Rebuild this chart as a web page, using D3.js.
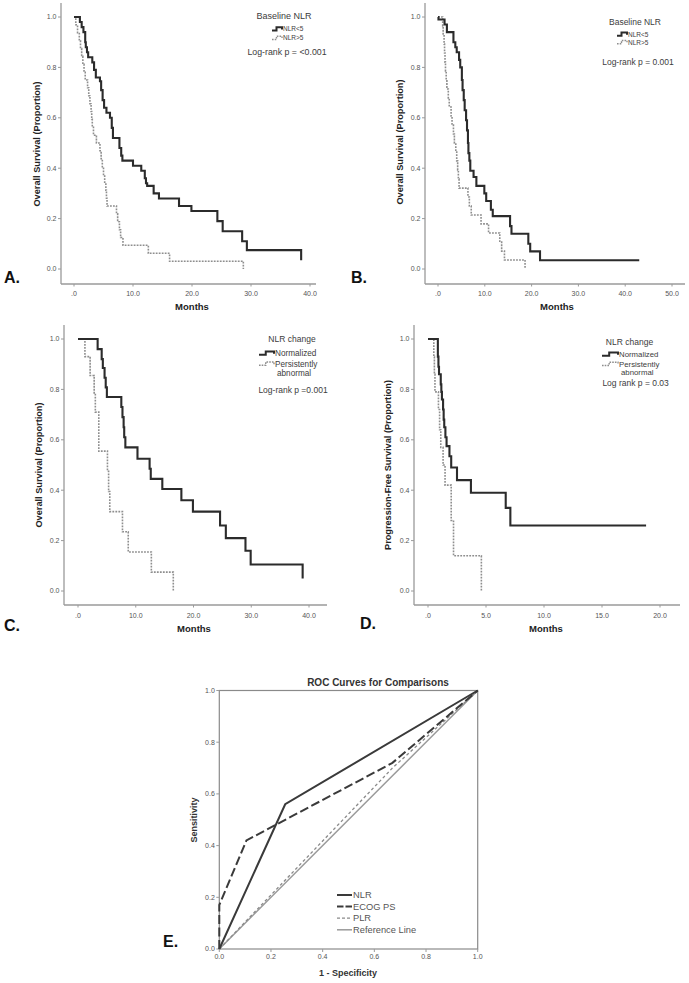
<!DOCTYPE html>
<html><head><meta charset="utf-8">
<script src="https://cdn.jsdelivr.net/npm/d3@7/dist/d3.min.js"></script>
<style>body{margin:0;background:#fff}svg{display:block}</style>
</head><body>
<svg id="c" width="689" height="983"></svg>
<script>
// ---------- DATA (time in months, survival proportion) ----------
const kmA_nlrLow = [[0,1],[1.0,0.98],[1.3,0.96],[1.6,0.94],[1.9,0.90],[2.0,0.88],[2.2,0.86],[2.4,0.84],[3.1,0.82],[3.4,0.79],[3.7,0.76],[4.4,0.745],[4.6,0.71],[4.85,0.67],[5.1,0.64],[5.5,0.62],[6.1,0.60],[6.4,0.56],[6.6,0.52],[7.7,0.48],[8.0,0.45],[8.2,0.43],[10.0,0.41],[11.4,0.39],[12.0,0.36],[12.2,0.34],[12.4,0.33],[13.5,0.30],[14.4,0.28],[17.8,0.25],[19.9,0.23],[24.3,0.19],[25.2,0.15],[28.5,0.11],[29.3,0.075],[38.5,0.035]];
const kmA_nlrHigh = [[0,1],[0.3,0.969],[0.6,0.938],[0.9,0.906],[1.1,0.875],[1.3,0.844],[1.5,0.8125],[1.7,0.781],[1.9,0.75],[2.3,0.719],[2.5,0.6875],[2.7,0.656],[2.9,0.625],[3.0,0.594],[3.1,0.5625],[3.3,0.531],[3.8,0.5],[4.4,0.469],[4.6,0.4375],[4.8,0.406],[5.0,0.375],[5.2,0.344],[5.4,0.3125],[5.5,0.281],[5.6,0.25],[7.2,0.219],[7.4,0.1875],[7.7,0.156],[7.9,0.125],[8.3,0.094],[12.6,0.0625],[16.2,0.031],[28.7,0]];
const kmB_nlrLow = [[0,1],[0.1,0.99],[1.4,0.97],[1.9,0.94],[3.3,0.90],[3.7,0.88],[4.0,0.86],[4.5,0.83],[4.75,0.80],[5.1,0.75],[5.25,0.71],[5.5,0.67],[5.7,0.63],[6.0,0.59],[6.2,0.55],[6.4,0.50],[6.5,0.46],[6.7,0.43],[6.9,0.39],[7.6,0.365],[8.2,0.33],[9.9,0.30],[10.3,0.27],[11.3,0.235],[11.7,0.21],[15.4,0.17],[15.7,0.14],[19.3,0.10],[19.7,0.07],[21.8,0.035],[43.0,0.035]];
const kmB_nlrHigh = [[0,1],[1.0,0.964],[1.1,0.929],[1.3,0.893],[1.4,0.857],[1.5,0.821],[1.6,0.786],[1.75,0.75],[1.9,0.714],[2.2,0.679],[2.4,0.643],[2.8,0.607],[3.0,0.571],[3.3,0.536],[3.5,0.5],[3.8,0.464],[4.0,0.429],[4.2,0.393],[4.35,0.357],[4.5,0.321],[6.4,0.286],[6.7,0.25],[7.1,0.214],[9.2,0.179],[10.8,0.143],[13.2,0.107],[13.6,0.071],[14.2,0.036],[18.6,0]];
const kmC_normalized = [[0,1],[3.4,0.96],[4.1,0.92],[4.3,0.885],[4.6,0.846],[4.8,0.808],[5.0,0.77],[7.5,0.73],[7.7,0.69],[7.9,0.65],[8.0,0.61],[8.2,0.57],[10.3,0.525],[12.4,0.485],[12.6,0.445],[14.6,0.405],[17.9,0.36],[19.9,0.315],[24.6,0.26],[25.6,0.21],[29.0,0.16],[29.9,0.105],[38.9,0.05]];
const kmC_persistent = [[0,1],[1.2,0.93],[2.1,0.855],[2.8,0.78],[3.0,0.71],[3.6,0.555],[5.1,0.475],[5.3,0.395],[5.5,0.315],[7.7,0.235],[8.7,0.155],[12.7,0.075],[16.5,0]];
const kmD_normalized = [[0,1],[0.85,0.93],[0.9,0.89],[0.95,0.86],[1.1,0.82],[1.15,0.79],[1.2,0.76],[1.3,0.72],[1.35,0.68],[1.4,0.65],[1.5,0.61],[1.6,0.575],[1.85,0.535],[2.0,0.49],[2.5,0.44],[3.7,0.39],[6.7,0.33],[7.1,0.26],[18.8,0.26]];
const kmD_persistent = [[0,1],[0.5,0.93],[0.55,0.86],[0.6,0.79],[0.9,0.72],[1.0,0.64],[1.1,0.57],[1.3,0.5],[1.47,0.42],[2.0,0.28],[2.2,0.14],[4.6,0]];

const xTicks40 = [0,10,20,30,40];
const xTicks50 = [0,10,20,30,40,50];
const xTicks20 = [0,5,10,15,20];
const yTicksKM = [0,0.2,0.4,0.6,0.8,1.0];

const rocNLR  = [[0,0],[0.255,0.56],[1,1]];
const rocECOG = [[0,0],[0,0.17],[0.105,0.42],[0.67,0.72],[1,1]];
const rocPLR  = [[0,0],[0.67,0.70],[1,1]];
const rocRef  = [[0,0],[1,1]];
const rocTicks = [0,0.2,0.4,0.6,0.8,1.0];
const rocLegend = ["NLR","ECOG PS","PLR","Reference Line"];

// ---------- DRAWING ----------
const FONT = "'Liberation Sans', Arial, Helvetica, sans-serif";
const svg = d3.select("#c").style("font-family", FONT);
const AX = "#9a9a9a", TXT = "#3c3c3c", TICK = "#555";
const DARK = "#2b2b2b", GREY = "#8e8e8e";

function stepPath(data, x, y){
  let d = `M${x(data[0][0])},${y(data[0][1])}`;
  for (let i=1;i<data.length;i++) d += `H${x(data[i][0])}V${y(data[i][1])}`;
  return d;
}
const fmtX = d => d===0 ? ".0" : d.toFixed(1);

const panels = [
  {series:[kmA_nlrLow,kmA_nlrHigh], xMax:40, xt:xTicks40, xr:[74,310], yr:[269,17], axX:61, axTop:3, axBot:284, axRight:316, tlY:294,
   monthsX:192, monthsY:307, ylab:"Overall Survival (Proportion)", ylabX:37, ylabY:144, letter:"A.", lx:4, ly:283,
   title:"Baseline NLR", titleX:284, titleY:16, titleSize:9, items:[{t:"NLR<5",y:29},{t:"NLR>5",y:38}], sx:272, sw:10, tx:283, itemSize:6.5,
   p:"Log-rank p = <0.001", pX:287, pY:52, pSize:8.8},
  {series:[kmB_nlrLow,kmB_nlrHigh], xMax:50, xt:xTicks50, xr:[438,672], yr:[269,17], axX:425, axTop:3, axBot:284, axRight:685, tlY:294,
   monthsX:557, monthsY:307, ylab:"Overall Survival (Proportion)", ylabX:400, ylabY:142, letter:"B.", lx:351, ly:283,
   title:"Baseline NLR", titleX:635, titleY:22, titleSize:8.5, items:[{t:"NLR<5",y:34.3},{t:"NLR>5",y:42.3}], sx:617, sw:10, tx:628, itemSize:6.5,
   p:"Log-rank p = 0.001", pX:638, pY:62, pSize:8.5},
  {series:[kmC_normalized,kmC_persistent], xMax:40, xt:xTicks40, xr:[78,309], yr:[591,339], axX:64, axTop:325, axBot:605, axRight:327, tlY:616,
   monthsX:194, monthsY:629, ylab:"Overall Survival (Proportion)", ylabX:39, ylabY:465, letter:"C.", lx:4, ly:631,
   title:"NLR change", titleX:292, titleY:339.5, titleSize:8.5, items:[{t:"Normalized",y:353.3},{t:"Persistently",y:363.8,t2:"abnormal",y2:372.8}], sx:259, sw:15, tx:275, itemSize:8.2,
   p:"Log-rank p =0.001", pX:293, pY:390, pSize:8.5},
  {series:[kmD_normalized,kmD_persistent], xMax:20, xt:xTicks20, xr:[428,660], yr:[591,339], axX:414, axTop:325, axBot:605, axRight:680, tlY:616,
   monthsX:546, monthsY:629, ylab:"Progression-Free Survival (Proportion)", ylabX:387.5, ylabY:465, letter:"D.", lx:360, ly:629,
   title:"NLR change", titleX:629.5, titleY:341.7, titleSize:8.5, items:[{t:"Normalized",y:354.3},{t:"Persistently",y:364,t2:"abnormal",y2:372.6}], sx:602, sw:16, tx:619, itemSize:7.8,
   p:"Log rank p = 0.03", pX:635.6, pY:383.5, pSize:8.5}
];

panels.forEach(P => {
  const g = svg.append("g");
  const x = d3.scaleLinear().domain([0,P.xMax]).range(P.xr);
  const y = d3.scaleLinear().domain([0,1]).range(P.yr);
  g.append("line").attr("x1",P.axX).attr("x2",P.axX).attr("y1",P.axTop).attr("y2",P.axBot).attr("stroke",AX).attr("stroke-width",1.3);
  g.append("line").attr("x1",P.axX).attr("x2",P.axRight).attr("y1",P.axBot).attr("y2",P.axBot).attr("stroke",AX).attr("stroke-width",1.3);
  yTicksKM.forEach(v => {
    g.append("line").attr("x1",P.axX-3).attr("x2",P.axX).attr("y1",y(v)).attr("y2",y(v)).attr("stroke",AX);
    g.append("text").attr("x",P.axX-4.5).attr("y",y(v)).attr("dy","0.35em").attr("text-anchor","end")
      .attr("font-size",7).attr("fill",TICK).text(v.toFixed(1));
  });
  P.xt.forEach(v => {
    g.append("line").attr("x1",x(v)).attr("x2",x(v)).attr("y1",P.axBot).attr("y2",P.axBot+2.5).attr("stroke",AX);
    g.append("text").attr("x",x(v)).attr("y",P.tlY).attr("dy","0.35em").attr("text-anchor","middle")
      .attr("font-size",7).attr("fill",TICK).text(fmtX(v));
  });
  g.append("text").attr("x",P.monthsX).attr("y",P.monthsY).attr("dy","0.35em").attr("text-anchor","middle")
    .attr("font-size",9.5).attr("font-weight","bold").attr("fill","#222").text("Months");
  g.append("text").attr("transform",`translate(${P.ylabX},${P.ylabY}) rotate(-90)`).attr("dy","0.35em").attr("text-anchor","middle")
    .attr("font-size",9.2).attr("font-weight","bold").attr("fill","#222").text(P.ylab);
  g.append("text").attr("x",P.lx).attr("y",P.ly).attr("font-size",16).attr("font-weight","bold").attr("fill","#111").text(P.letter);
  g.append("path").attr("d",stepPath(P.series[1],x,y)).attr("fill","none").attr("stroke",GREY).attr("stroke-width",1.6).attr("stroke-dasharray","1.8,1.2");
  g.append("path").attr("d",stepPath(P.series[0],x,y)).attr("fill","none").attr("stroke",DARK).attr("stroke-width",2.1);
  g.append("text").attr("x",P.titleX).attr("y",P.titleY).attr("dy","0.35em").attr("text-anchor","middle")
    .attr("font-size",P.titleSize).attr("fill",TXT).text(P.title);
  P.items.forEach((it,i) => {
    const s = i===0 ? {c:DARK,w:2,da:null} : {c:GREY,w:1.4,da:"1.6,1.1"};
    const yy = it.y, x0 = P.sx, w = P.sw;
    g.append("path").attr("d",`M${x0},${yy+1.5}H${x0+w*0.45}V${yy-1.8}H${x0+w}V${yy+0.5}`)
      .attr("fill","none").attr("stroke",s.c).attr("stroke-width",s.w).attr("stroke-dasharray",s.da);
    g.append("text").attr("x",P.tx).attr("y",yy).attr("dy","0.35em").attr("font-size",P.itemSize).attr("fill",TXT).text(it.t);
    if (it.t2) g.append("text").attr("x",P.tx+2).attr("y",it.y2).attr("dy","0.35em").attr("font-size",P.itemSize).attr("fill",TXT).text(it.t2);
  });
  g.append("text").attr("x",P.pX).attr("y",P.pY).attr("dy","0.35em").attr("text-anchor","middle")
    .attr("font-size",P.pSize).attr("fill",TXT).text(P.p);
});

// ---------- ROC (E) ----------
(function(){
  const g = svg.append("g");
  const x = d3.scaleLinear().domain([0,1]).range([219.3,477.7]);
  const y = d3.scaleLinear().domain([0,1]).range([949,690.5]);
  g.append("rect").attr("x",x(0)).attr("y",y(1)).attr("width",x(1)-x(0)).attr("height",y(0)-y(1))
    .attr("fill","none").attr("stroke","#8a8a8a").attr("stroke-width",1.2);
  rocTicks.forEach(v => {
    g.append("line").attr("x1",x(0)-3).attr("x2",x(0)).attr("y1",y(v)).attr("y2",y(v)).attr("stroke",AX);
    g.append("text").attr("x",x(0)-4.5).attr("y",y(v)).attr("dy","0.35em").attr("text-anchor","end")
      .attr("font-size",7).attr("fill",TICK).text(v.toFixed(1));
    g.append("line").attr("x1",x(v)).attr("x2",x(v)).attr("y1",y(0)).attr("y2",y(0)+3).attr("stroke",AX);
    g.append("text").attr("x",x(v)).attr("y",957).attr("dy","0.35em").attr("text-anchor","middle")
      .attr("font-size",7).attr("fill",TICK).text(v.toFixed(1));
  });
  const line = d3.line().x(d=>x(d[0])).y(d=>y(d[1]));
  const styles = [
    {data:rocNLR, c:"#3a3a3a", w:2, da:null, lda:null},
    {data:rocECOG, c:"#3a3a3a", w:2, da:"9,3.5", lda:"6.5,2"},
    {data:rocPLR, c:"#8a8a8a", w:1.3, da:"3,2.5", lda:"3,2"},
    {data:rocRef, c:"#9a9a9a", w:1.5, da:null, lda:null}
  ];
  [3,2,1,0].forEach(i => {
    const s = styles[i];
    g.append("path").attr("d",line(s.data)).attr("fill","none").attr("stroke",s.c).attr("stroke-width",s.w).attr("stroke-dasharray",s.da);
  });
  rocLegend.forEach((name,i) => {
    const s = styles[i], yy = 895 + i*11.6;
    g.append("line").attr("x1",337).attr("x2",352).attr("y1",yy).attr("y2",yy).attr("stroke",s.c).attr("stroke-width",s.w).attr("stroke-dasharray",s.lda);
    g.append("text").attr("x",353).attr("y",yy).attr("dy","0.35em").attr("font-size",9.3).attr("fill","#555").text(name);
  });
  g.append("text").attr("x",378).attr("y",682).attr("dy","0.35em").attr("text-anchor","middle")
    .attr("font-size",10).attr("font-weight","bold").attr("fill","#333").text("ROC Curves for Comparisons");
  g.append("text").attr("transform","translate(194,820) rotate(-90)").attr("dy","0.35em").attr("text-anchor","middle")
    .attr("font-size",9).attr("font-weight","bold").attr("fill","#333").text("Sensitivity");
  g.append("text").attr("x",348).attr("y",973).attr("dy","0.35em").attr("text-anchor","middle")
    .attr("font-size",9).attr("font-weight","bold").attr("fill","#333").text("1 - Specificity");
  g.append("text").attr("x",163).attr("y",947).attr("font-size",16).attr("font-weight","bold").attr("fill","#111").text("E.");
})();
</script>
</body></html>
